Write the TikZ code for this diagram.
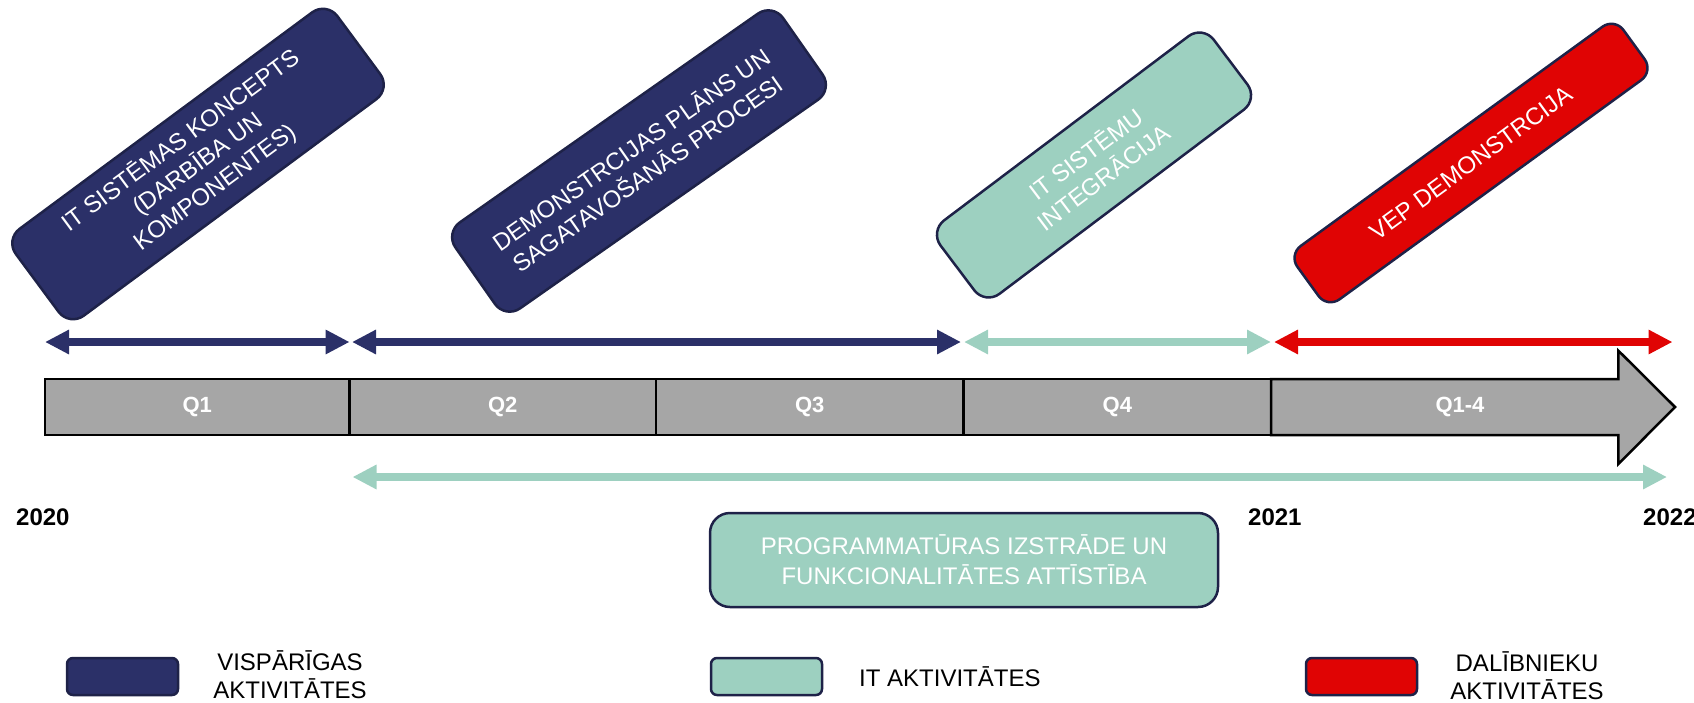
\documentclass[tikz,border=0pt]{standalone}
\usepackage{fontspec}
\setmainfont{Liberation Sans}
\usetikzlibrary{arrows.meta}
\definecolor{navyc}{RGB}{43,48,104}
\definecolor{navyd}{RGB}{30,34,72}
\definecolor{greenc}{RGB}{157,208,192}
\definecolor{redc}{RGB}{224,4,4}
\definecolor{grayc}{RGB}{166,166,166}
\begin{document}
\begin{tikzpicture}[x=1pt,y=-1pt,
  tilt/.style={draw=navyd, line width=2.5pt, rounded corners=18pt, text=white, align=center, inner sep=0pt, font=\fontsize{24}{29}\selectfont},
  qseg/.style={draw=black, line width=2.5pt, fill=grayc, minimum height=56pt, inner sep=0pt, text=white, font=\bfseries\fontsize{22}{26}\selectfont},
  qlabel/.style={inner sep=0pt, text=white, font=\bfseries\fontsize{22}{26}\selectfont},
  span/.style={line width=8pt, arrows={Triangle[length=24pt,width=23pt]-Triangle[length=24pt,width=23pt]}},
  year/.style={anchor=west, inner sep=0pt, font=\bfseries\fontsize{24}{28}\selectfont},
  legbox/.style={draw=navyd, line width=2.5pt, rounded corners=6pt, minimum width=111pt, minimum height=37pt},
  legtext/.style={align=center, inner sep=0pt, font=\fontsize{24}{28}\selectfont}
]
\useasboundingbox (0,0) rectangle (1694,702);

% tilted activity boxes
\node[tilt, fill=navyc, minimum width=400pt, minimum height=108pt, rotate=36.5] (b1) at (198,164)
  {IT SISTĒMAS KONCEPTS\\(DARBĪBA UN\\KOMPONENTES)};
\node[tilt, fill=navyc, minimum width=400pt, minimum height=105pt, rotate=35] (b2) at (639,161)
  {DEMONSTRCIJAS PLĀNS UN\\SAGATAVOŠANĀS PROCESI};
\node[tilt, fill=greenc, minimum width=342pt, minimum height=92pt, rotate=37] (b3) at (1094,165)
  {IT SISTĒMU\\INTEGRĀCIJA};
\node[tilt, fill=redc, minimum width=403pt, minimum height=66pt, rotate=36, rounded corners=15pt] (b4) at (1471,163)
  {VEP DEMONSTRCIJA};

% span arrows
\coordinate (s0) at (45,342);
\coordinate (s1) at (349.6,342);
\coordinate (s1b) at (352,342);
\coordinate (s2) at (961,342);
\coordinate (s2b) at (964,342);
\coordinate (s3) at (1271,342);
\coordinate (s3b) at (1274,342);
\coordinate (s4) at (1672.5,342);
\draw[span, navyc] (s0) -- (s1);
\draw[span, navyc] (s1b) -- (s2);
\draw[span, greenc] (s2b) -- (s3);
\draw[span, redc] (s3b) -- (s4);

% timeline bar
\node[qseg, minimum width=304.6pt] (q1) at (197.3,407) {Q1};
\node[qseg, minimum width=306.2pt] (q2) at (502.7,407) {Q2};
\node[qseg, minimum width=307.8pt] (q3) at (809.7,407) {Q3};
\node[qseg, minimum width=307.4pt] (q4) at (1117.3,407) {Q4};
\draw[draw=black, line width=2.5pt, fill=grayc, line join=miter]
  (1271,379) -- (1618.4,379) -- (1618.4,350.7) -- (1675,407) -- (1618.4,464) -- (1618.4,435) -- (1271,435) -- cycle;
\node[qlabel] (q5) at (1460,407) {Q1-4};

% long green arrow
\coordinate (g0) at (352.5,477);
\coordinate (g1) at (1667,477);
\draw[span, greenc] (g0) -- (g1);

% years
\node[year] (y20) at (16,517) {2020};
\node[year] (y21) at (1248,517) {2021};
\node[year] (y22) at (1643,517) {2022};

% software development box
\node[draw=navyd, line width=2.5pt, fill=greenc, rounded corners=20pt, minimum width=508pt, minimum height=94pt,
  text=white, align=center, inner sep=0pt, font=\fontsize{24}{30}\selectfont] (prog) at (964,560)
  {PROGRAMMATŪRAS IZSTRĀDE UN\\FUNKCIONALITĀTES ATTĪSTĪBA};

% legend
\node[legbox, fill=navyc] (l1) at (122.5,676.5) {};
\node[legtext] (l1t) at (290,675) {VISPĀRĪGAS\\AKTIVITĀTES};
\node[legbox, fill=greenc] (l2) at (766.5,676.5) {};
\node[legtext, anchor=west] (l2t) at (859,677) {IT AKTIVITĀTES};
\node[legbox, fill=redc] (l3) at (1361.5,676.5) {};
\node[legtext] (l3t) at (1527,675.5) {DALĪBNIEKU\\AKTIVITĀTES};
\end{tikzpicture}
\end{document}
